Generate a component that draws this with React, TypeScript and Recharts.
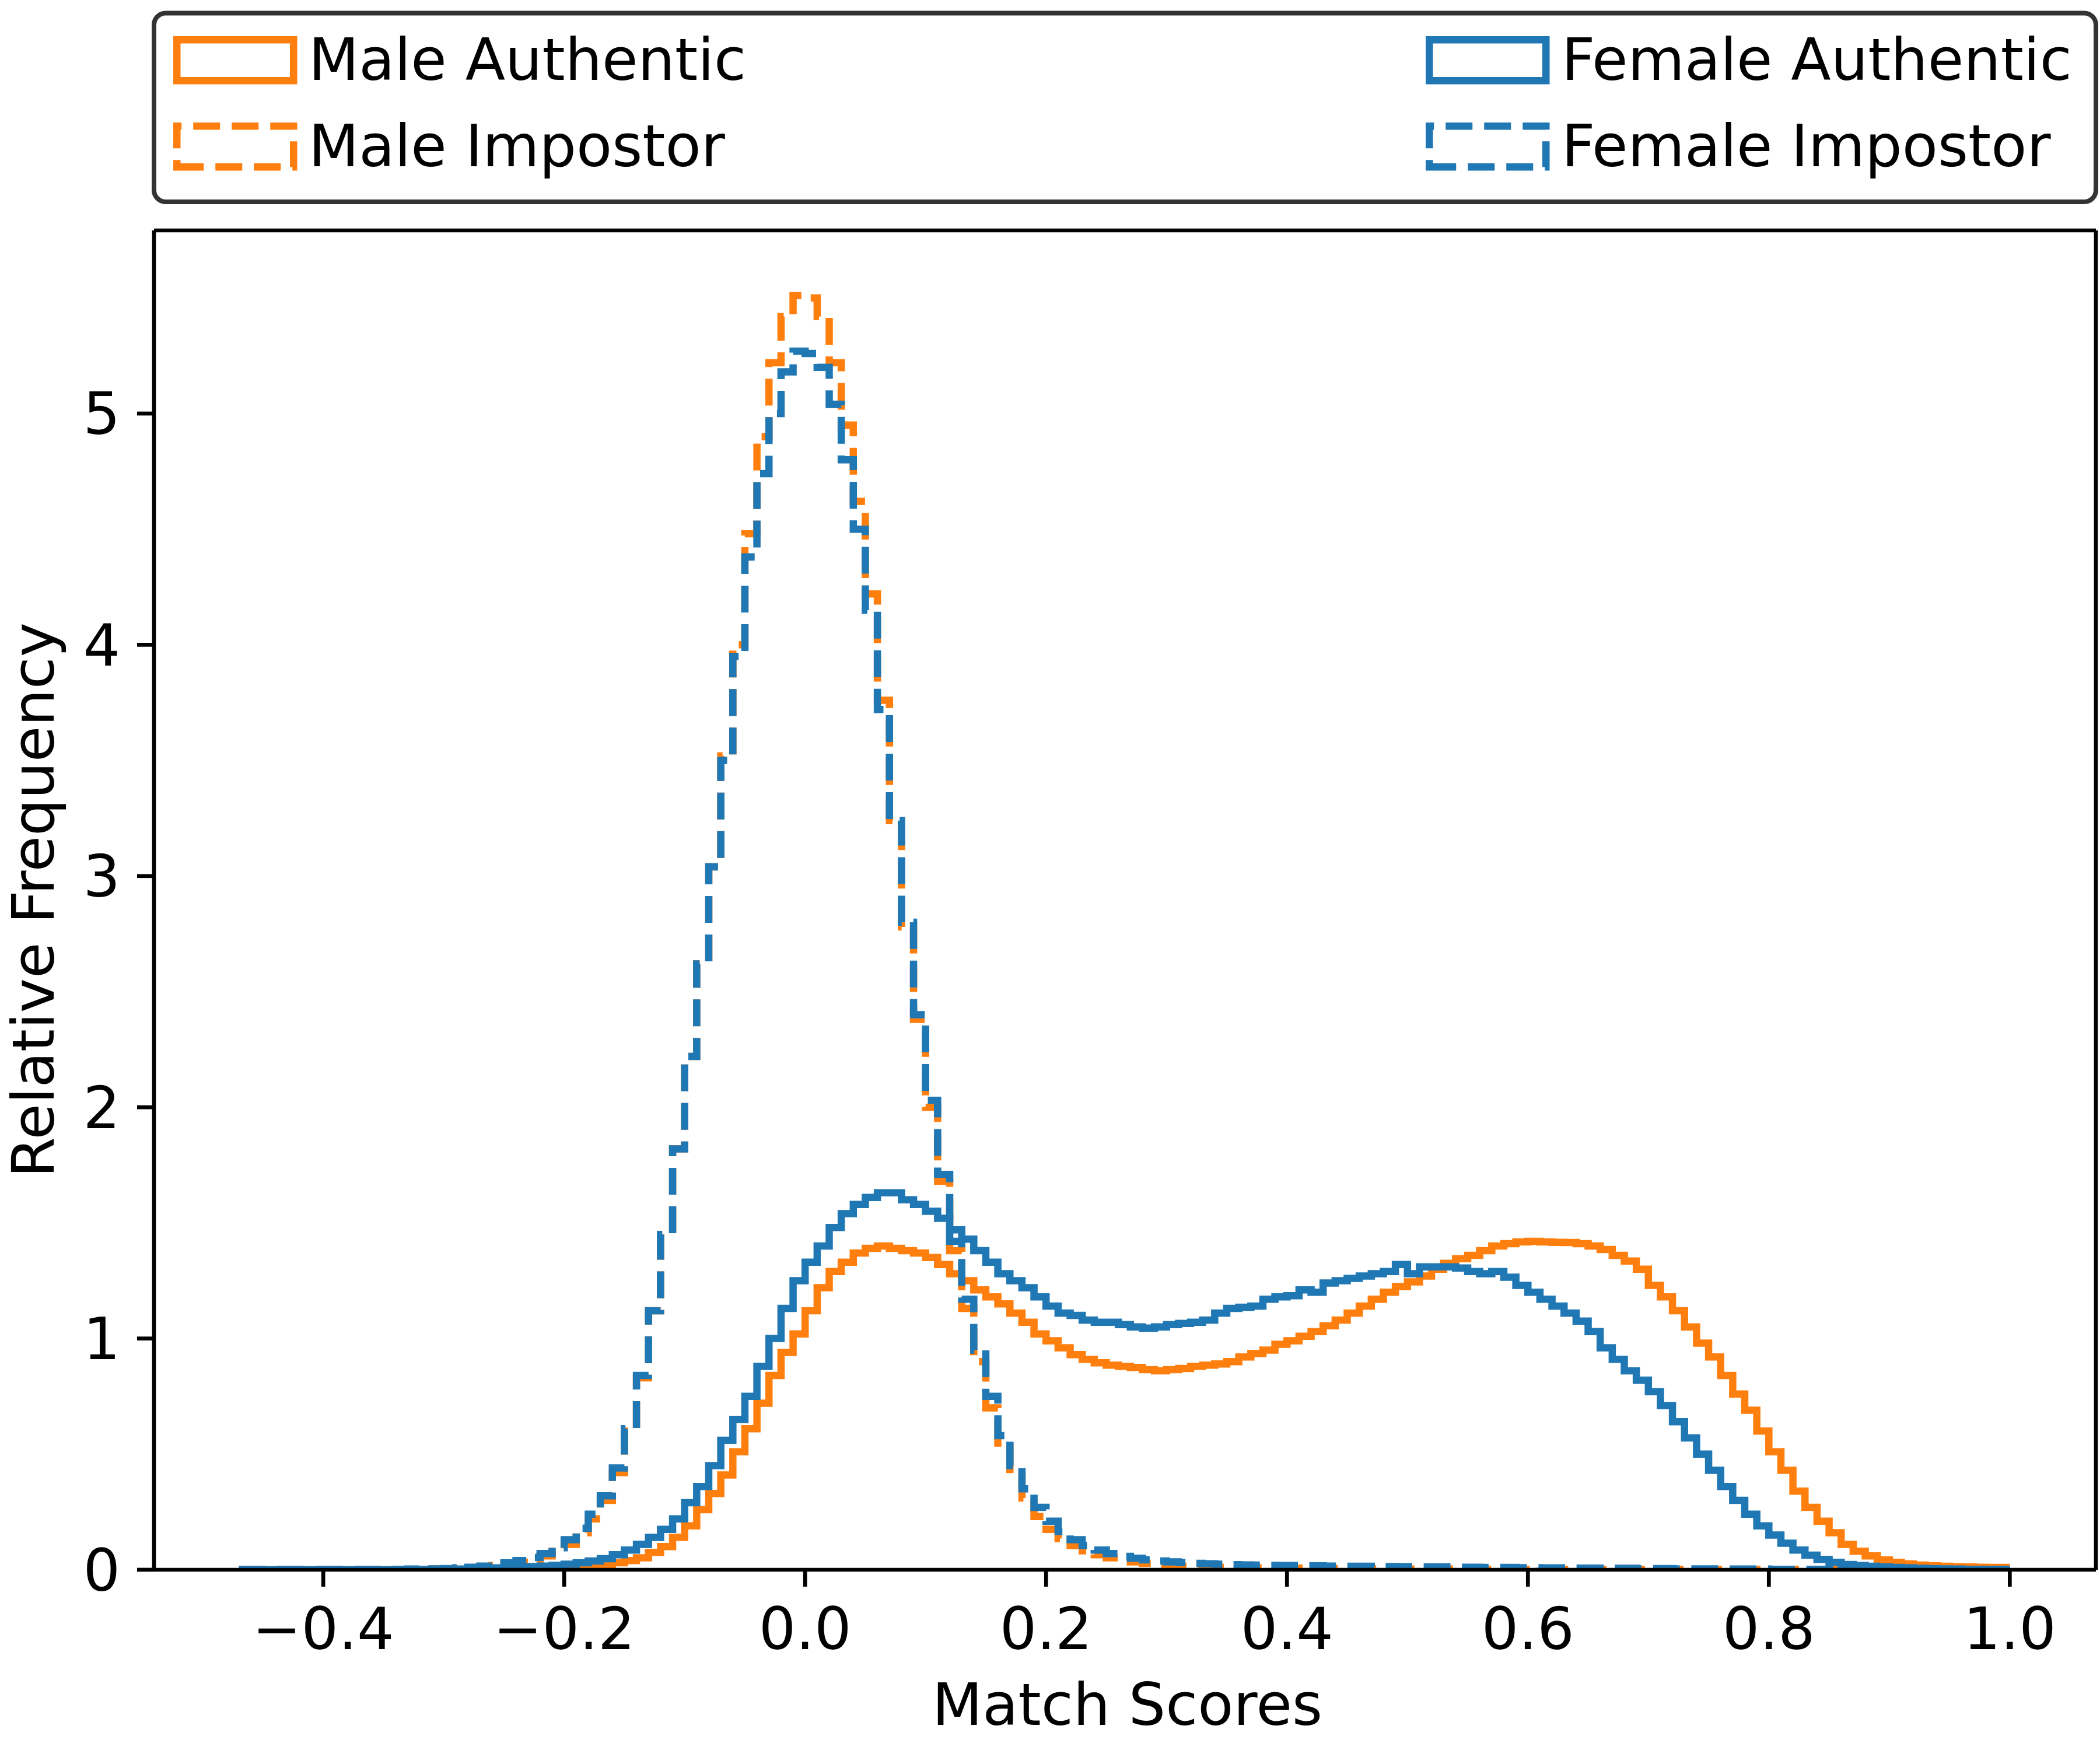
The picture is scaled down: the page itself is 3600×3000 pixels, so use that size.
import React from 'react';
import { ComposedChart, Line, XAxis, YAxis, Legend, Label, ReferenceLine } from 'recharts';

// Histogram bins: left edge of first bin and bin width
const BIN_START = -0.47;
const BIN_WIDTH = 0.01;

// Density values per bin (bin centres -0.465, -0.455, ..., 0.995)
const maleAuthentic = [
  0, 0, 0, 0, 0, 0, 0, 0, 0, 0,
  0, 0, 0, 0, 0, 0, 0.001, 0.001, 0.002, 0.002,
  0.003, 0.004, 0.005, 0.006, 0.007, 0.008, 0.010, 0.012, 0.015, 0.018,
  0.023, 0.030, 0.040, 0.052, 0.075, 0.10, 0.14, 0.19, 0.26, 0.33,
  0.41, 0.51, 0.61, 0.72, 0.84, 0.94, 1.02, 1.12, 1.22, 1.29,
  1.33, 1.37, 1.39, 1.40, 1.39, 1.38, 1.37, 1.35, 1.32, 1.28,
  1.25, 1.21, 1.18, 1.15, 1.11, 1.07, 1.02, 0.99, 0.96, 0.93,
  0.91, 0.895, 0.885, 0.88, 0.875, 0.865, 0.86, 0.865, 0.87, 0.88,
  0.885, 0.89, 0.90, 0.92, 0.935, 0.95, 0.975, 0.99, 1.01, 1.03,
  1.055, 1.08, 1.11, 1.14, 1.17, 1.20, 1.225, 1.245, 1.27, 1.30,
  1.325, 1.345, 1.36, 1.38, 1.40, 1.41, 1.418, 1.42, 1.418, 1.416,
  1.415, 1.41, 1.40, 1.385, 1.36, 1.335, 1.30, 1.23, 1.18, 1.12,
  1.05, 0.98, 0.92, 0.84, 0.76, 0.69, 0.60, 0.51, 0.43, 0.34,
  0.27, 0.21, 0.16, 0.11, 0.08, 0.06, 0.042, 0.032, 0.025, 0.02,
  0.017, 0.015, 0.013, 0.012, 0.011, 0.01, 0.01,
];

const maleImpostor = [
  0.001, 0.001, 0.001, 0.001, 0.001, 0.001, 0.001, 0.001, 0.001, 0.001,
  0.001, 0.001, 0.001, 0.002, 0.002, 0.003, 0.004, 0.004, 0.006, 0.009,
  0.013, 0.018, 0.025, 0.033, 0.045, 0.06, 0.08, 0.11, 0.16, 0.22,
  0.30, 0.42, 0.60, 0.83, 1.12, 1.45, 1.82, 2.22, 2.62, 3.04,
  3.52, 4.0, 4.48, 4.90, 5.22, 5.42, 5.51, 5.50, 5.42, 5.22,
  4.95, 4.62, 4.22, 3.76, 3.24, 2.78, 2.38, 2.0, 1.68, 1.38,
  1.13, 0.90, 0.70, 0.53, 0.41, 0.31, 0.23, 0.175, 0.135, 0.105,
  0.082, 0.065, 0.052, 0.042, 0.034, 0.028, 0.023, 0.019, 0.016, 0.014,
  0.012, 0.011, 0.010, 0.009, 0.008, 0.008, 0.007, 0.007, 0.006, 0.006,
  0.005, 0.005, 0.005, 0.004, 0.004, 0.004, 0.004, 0.003, 0.003, 0.003,
  0.003, 0.003, 0.003, 0.002, 0.002, 0.002, 0.002, 0.002, 0.002, 0.002,
  0.002, 0.002, 0.001, 0.001, 0.001, 0.001, 0.001, 0.001, 0.001, 0.001,
  0.001, 0.001, 0.001, 0.001, 0.001, 0.001, 0.001, 0.001, 0.001, 0.001,
  0.001, 0.001, 0.001, 0.001, 0.001, 0.001, 0.001, 0.001, 0.001, 0.001,
  0.001, 0.001, 0.001, 0.001, 0.001, 0.001, 0.001,
];

const femaleAuthentic = [
  0, 0, 0, 0, 0, 0, 0, 0, 0, 0,
  0, 0, 0, 0.001, 0.001, 0.001, 0.002, 0.002, 0.003, 0.004,
  0.006, 0.008, 0.010, 0.012, 0.014, 0.016, 0.019, 0.024, 0.030, 0.038,
  0.048, 0.065, 0.085, 0.11, 0.14, 0.175, 0.22, 0.29, 0.36, 0.45,
  0.56, 0.65, 0.75, 0.88, 1.0, 1.13, 1.25, 1.33, 1.40, 1.48,
  1.54, 1.58, 1.61, 1.63, 1.63, 1.60, 1.58, 1.55, 1.52, 1.47,
  1.43, 1.38, 1.33, 1.28, 1.25, 1.22, 1.18, 1.14, 1.11, 1.10,
  1.08, 1.07, 1.07, 1.06, 1.05, 1.045, 1.05, 1.06, 1.065, 1.07,
  1.08, 1.11, 1.13, 1.135, 1.14, 1.17, 1.18, 1.185, 1.21, 1.20,
  1.24, 1.25, 1.26, 1.27, 1.28, 1.29, 1.32, 1.28, 1.31, 1.31,
  1.31, 1.305, 1.29, 1.28, 1.29, 1.265, 1.23, 1.20, 1.17, 1.14,
  1.11, 1.075, 1.03, 0.96, 0.91, 0.86, 0.82, 0.77, 0.71, 0.64,
  0.57, 0.50, 0.43, 0.36, 0.30, 0.24, 0.19, 0.15, 0.115, 0.085,
  0.063, 0.045, 0.032, 0.023, 0.018, 0.015, 0.012, 0.010, 0.008, 0.006,
  0.005, 0.004, 0.003, 0.002, 0.002, 0.001, 0.001,
];

const femaleImpostor = [
  0.001, 0.001, 0.001, 0.001, 0.001, 0.001, 0.001, 0.001, 0.001, 0.001,
  0.001, 0.001, 0.002, 0.002, 0.003, 0.003, 0.004, 0.005, 0.008, 0.011,
  0.016, 0.022, 0.030, 0.040, 0.053, 0.07, 0.095, 0.13, 0.18, 0.24,
  0.32, 0.44, 0.61, 0.84, 1.12, 1.45, 1.82, 2.22, 2.62, 3.04,
  3.50, 3.95, 4.38, 4.74, 5.00, 5.18, 5.27, 5.26, 5.20, 5.04,
  4.80, 4.50, 4.15, 3.72, 3.24, 2.80, 2.40, 2.03, 1.71, 1.42,
  1.17, 0.95, 0.75, 0.58, 0.45, 0.35, 0.27, 0.21, 0.165, 0.13,
  0.105, 0.085, 0.07, 0.058, 0.05, 0.043, 0.038, 0.034, 0.031, 0.028,
  0.026, 0.024, 0.022, 0.021, 0.02, 0.019, 0.018, 0.018, 0.017, 0.017,
  0.016, 0.016, 0.015, 0.015, 0.014, 0.014, 0.013, 0.013, 0.012, 0.012,
  0.012, 0.011, 0.011, 0.010, 0.010, 0.010, 0.009, 0.009, 0.008, 0.008,
  0.008, 0.007, 0.007, 0.006, 0.006, 0.006, 0.005, 0.005, 0.005, 0.004,
  0.004, 0.004, 0.004, 0.003, 0.003, 0.003, 0.003, 0.002, 0.002, 0.002,
  0.002, 0.002, 0.002, 0.002, 0.002, 0.002, 0.002, 0.002, 0.002, 0.002,
  0.001, 0.001, 0.001, 0.001, 0.001, 0.001, 0.001,
];

const X_TICKS = [-0.4, -0.2, 0.0, 0.2, 0.4, 0.6, 0.8, 1.0];
const Y_TICKS = [0, 1, 2, 3, 4, 5];
const X_DOMAIN = [-0.5405, 1.0715];
const Y_DOMAIN = [0, 5.792];

const SERIES = [
  { key: 'ma', name: 'Male Authentic', color: '#ff7f0e', dashed: false, values: maleAuthentic },
  { key: 'mi', name: 'Male Impostor', color: '#ff7f0e', dashed: true, values: maleImpostor },
  { key: 'fa', name: 'Female Authentic', color: '#1f77b4', dashed: false, values: femaleAuthentic },
  { key: 'fi', name: 'Female Impostor', color: '#1f77b4', dashed: true, values: femaleImpostor },
];

const round = (v: number) => Math.round(v * 1e6) / 1e6;

// Build the table: one row per bin left edge plus the final right edge.
const nBins = maleAuthentic.length;
const rows: any[] = [];
for (let i = 0; i <= nBins; i++) {
  const j = Math.min(i, nBins - 1);
  const row: any = { x: round(BIN_START + i * BIN_WIDTH) };
  SERIES.forEach((s) => {
    row[s.key] = s.values[j];
  });
  rows.push(row);
}

const FONT = 'DejaVu Sans, sans-serif';
const FS = 100;
const LW = 12.5;
const DASH = '46 20';
const SPINE = 6.7;

const fmtX = (v: number) => {
  const s = v.toFixed(1);
  return s.startsWith('-') ? '\u2212' + s.slice(1) : s;
};

const renderLegend = (props: any) => {
  const payload = (props && props.payload) || [];
  const colX = [303.25, 2450.25];
  const rowY = [68.25, 216.25];
  const textX = [529, 2677];
  const baseY = [137, 285];
  const hw = 200;
  const hh = 70;
  const items = SERIES.map((s, idx) => {
    const p = payload.find((e: any) => e.value === s.name);
    const col = Math.floor(idx / 2);
    const r = idx % 2;
    const x = colX[col];
    const y = rowY[r];
    const d = `M ${x} ${y + hh} H ${x + hw} V ${y} H ${x} Z`;
    return (
      <g key={s.key}>
        <path
          d={d}
          fill="none"
          stroke={(p && p.color) || s.color}
          strokeWidth={LW}
          strokeDasharray={s.dashed ? DASH : undefined}
          strokeLinejoin="miter"
        />
        <text x={textX[col]} y={baseY[r]} fontFamily={FONT} fontSize={FS} fill="#000">
          {s.name}
        </text>
      </g>
    );
  });
  return (
    <svg width={3600} height={360} style={{ display: 'block' }}>
      <rect x={264} y={22.5} width={3329} height={323.5} rx={20} ry={20} fill="#ffffff" stroke="#333333" strokeWidth={8} />
      {items}
    </svg>
  );
};

const YTitle = (props: any) => {
  const vb = props.viewBox || { x: 0, y: 395, width: 264, height: 2296 };
  const x = vb.x + 92;
  const y = vb.y + vb.height / 2;
  return (
    <text x={x} y={y} transform={`rotate(-90 ${x} ${y})`} textAnchor="middle" fontFamily={FONT} fontSize={FS} fill="#000">
      Relative Frequency
    </text>
  );
};

const XTitle = (props: any) => {
  const vb = props.viewBox || { x: 264, y: 2691, width: 3329, height: 309 };
  const x = vb.x + vb.width / 2 + 4;
  const y = vb.y + 266;
  return (
    <text x={x} y={y} textAnchor="middle" fontFamily={FONT} fontSize={FS} fill="#000">
      Match Scores
    </text>
  );
};

export default function App() {
  const tickStyle = { fontSize: FS, fill: '#000', fontFamily: FONT };
  return (
    <div style={{ position: 'absolute', left: 0, top: 0, width: 3600, height: 3000, background: '#ffffff' }}>
      <ComposedChart
        width={3600}
        height={3000}
        data={rows}
        margin={{ top: 395, right: 7, bottom: 0, left: 0 }}
      >
        <XAxis
          dataKey="x"
          type="number"
          domain={X_DOMAIN}
          allowDataOverflow
          ticks={X_TICKS}
          interval={0}
          tickFormatter={fmtX}
          height={309}
          tick={tickStyle}
          tickSize={29}
          tickMargin={36}
          tickLine={{ stroke: '#000', strokeWidth: SPINE }}
          axisLine={{ stroke: '#000', strokeWidth: SPINE }}
        >
          <Label content={XTitle} />
        </XAxis>
        <YAxis
          type="number"
          domain={Y_DOMAIN}
          allowDataOverflow
          ticks={Y_TICKS}
          interval={0}
          width={264}
          tick={tickStyle}
          tickSize={29}
          tickMargin={29}
          tickLine={{ stroke: '#000', strokeWidth: SPINE }}
          axisLine={{ stroke: '#000', strokeWidth: SPINE }}
        >
          <Label content={YTitle} />
        </YAxis>
        <Legend
          verticalAlign="middle"
          align="center"
          layout="horizontal"
          content={renderLegend}
          wrapperStyle={{ top: 0, left: 0, width: 3600, height: 360 }}
        />
        {SERIES.map((s) => (
          <Line
            key={s.key}
            dataKey={s.key}
            name={s.name}
            type="stepAfter"
            stroke={s.color}
            strokeWidth={LW}
            strokeDasharray={s.dashed ? DASH : undefined}
            strokeLinejoin="miter"
            dot={false}
            activeDot={false}
            isAnimationActive={false}
          />
        ))}
        <ReferenceLine y={Y_DOMAIN[1]} stroke="#000" strokeWidth={SPINE} ifOverflow="visible" />
        <ReferenceLine x={X_DOMAIN[1]} stroke="#000" strokeWidth={SPINE} ifOverflow="visible" />
      </ComposedChart>
    </div>
  );
}
